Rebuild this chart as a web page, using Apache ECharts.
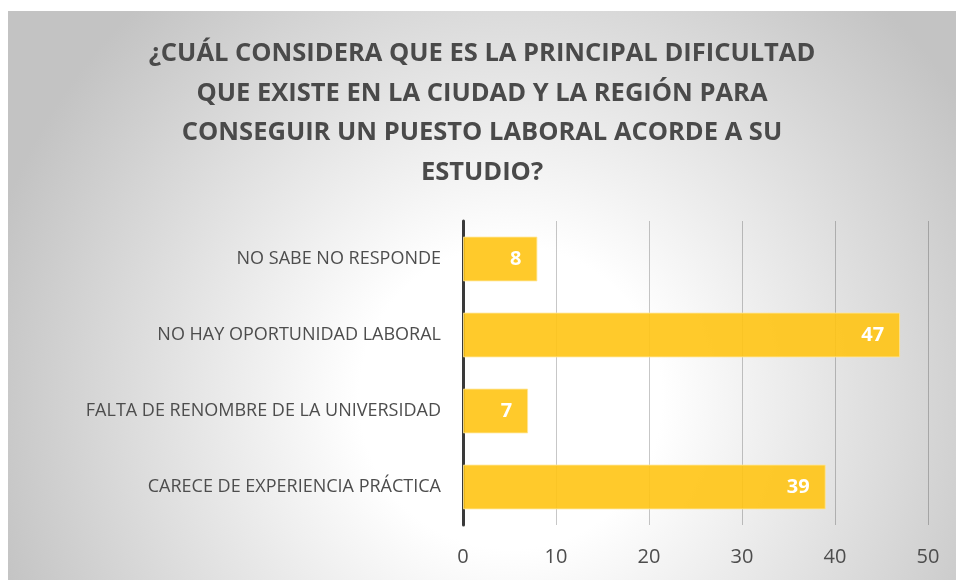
<!DOCTYPE html>
<html>
<head>
<meta charset="utf-8">
<script src="https://cdn.jsdelivr.net/npm/echarts@6/dist/echarts.min.js"></script>
<style>
html,body{margin:0;padding:0;background:#ffffff;width:956px;height:580px;overflow:hidden;}
#chart{position:absolute;left:8px;top:11px;width:948px;height:569px;}
</style>
</head>
<body>
<div id="chart"></div>
<script>
const titleText = "¿CUÁL CONSIDERA QUE ES LA PRINCIPAL DIFICULTAD\nQUE EXISTE EN LA CIUDAD Y LA REGIÓN PARA\nCONSEGUIR UN PUESTO LABORAL ACORDE A SU\nESTUDIO?";
const categories = [
  "CARECE DE EXPERIENCIA PRÁCTICA",
  "FALTA DE RENOMBRE DE LA UNIVERSIDAD",
  "NO HAY OPORTUNIDAD LABORAL",
  "NO SABE NO RESPONDE"
];
const values = [39, 7, 47, 8];
const xTicks = [0, 10, 20, 30, 40, 50];

const chart = echarts.init(document.getElementById('chart'), null, {renderer: 'canvas'});
chart.setOption({
  animation: false,
  backgroundColor: {
    type: 'radial', x: 0.53, y: 0.68, r: 0.95,
    colorStops: [
      {offset: 0, color: '#ffffff'},
      {offset: 0.28, color: '#ffffff'},
      {offset: 1, color: '#c3c3c3'}
    ]
  },
  title: {
    text: titleText,
    left: 'center',
    top: 18,
    textStyle: {
      fontFamily: 'Open Sans',
      fontWeight: 'bold',
      fontSize: 25.5,
      lineHeight: 39.5,
      color: '#4a4a4a'
    }
  },
  grid: {left: 455, right: 28, top: 210, bottom: 55, containLabel: false},
  xAxis: {
    type: 'value',
    min: xTicks[0], max: xTicks[xTicks.length - 1], interval: 10,
    axisLine: {show: false},
    axisTick: {show: false},
    axisLabel: {
      color: '#4d4d4d', fontSize: 20, fontFamily: 'Open Sans', margin: 22
    },
    splitLine: {show: true, lineStyle: {color: 'rgba(0,0,0,0.22)', width: 1}}
  },
  yAxis: {
    type: 'category',
    data: categories,
    axisLine: {show: true, lineStyle: {color: '#3a3a3a', width: 3}},
    axisTick: {show: false},
    axisLabel: {
      color: '#4d4d4d', fontSize: 18, fontFamily: 'Open Sans', margin: 22
    }
  },
  series: [{
    type: 'bar',
    data: values,
    barWidth: '59%',
    itemStyle: {color: 'rgba(255,196,20,0.9)', borderColor: 'rgba(255,230,150,0.8)', borderWidth: 1},
    label: {
      show: true, position: 'insideRight', distance: 16,
      color: '#ffffff', fontWeight: 'bold', fontSize: 20, fontFamily: 'Open Sans'
    }
  }]
});
</script>
</body>
</html>
